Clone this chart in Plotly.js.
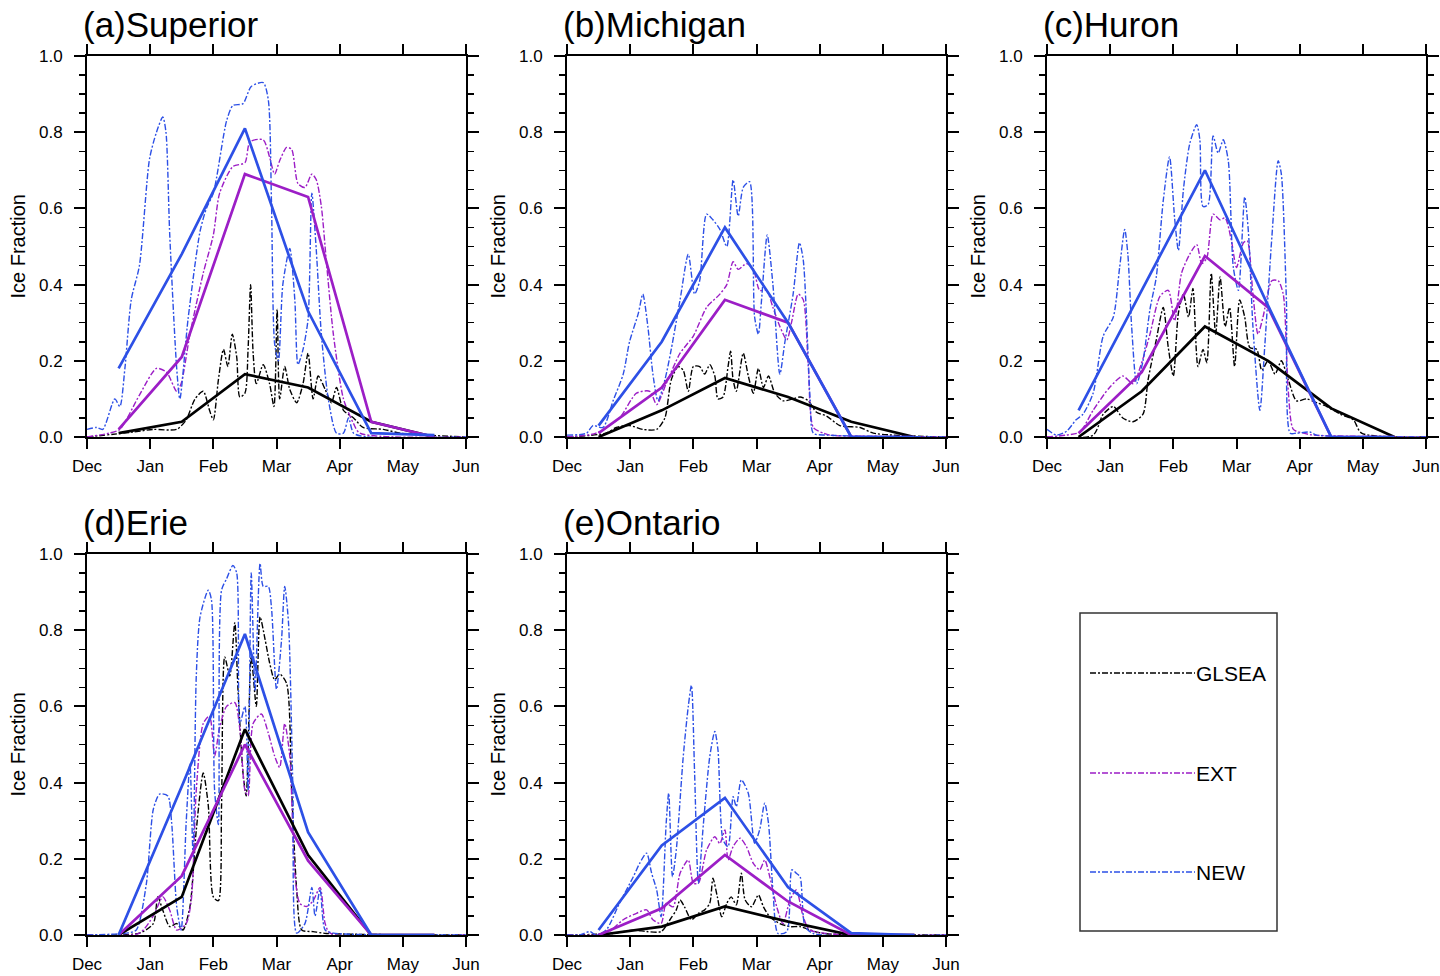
<!DOCTYPE html>
<html>
<head>
<meta charset="utf-8">
<script src="https://cdn.plot.ly/plotly-3.0.1.min.js"></script>
<style>
html,body{margin:0;padding:0;background:#fff;}
#chart{width:1440px;height:976px;}
</style>
</head>
<body>
<div id="chart"></div>
<script>
// ---------- categories / ticks ----------
const monthTickVals = [0, 1, 2, 3, 4, 5, 6];
const monthLabels = ["Dec", "Jan", "Feb", "Mar", "Apr", "May", "Jun"];
const yTickVals = [0, 0.2, 0.4, 0.6, 0.8, 1.0];
const yTickLabels = ["0.0", "0.2", "0.4", "0.6", "0.8", "1.0"];
const seriesNames = ["GLSEA", "EXT", "NEW"];
const panelTitles = ["(a)Superior", "(b)Michigan", "(c)Huron", "(d)Erie", "(e)Ontario"];

// monthly means plotted at mid-month (month index from 1 Dec)
const midMonths = [0.5, 1.5, 2.5, 3.5, 4.5, 5.5];

// ---------- (a) Superior ----------
const supGLSEAmon = [0.01, 0.04, 0.165, 0.13, 0.04, 0.0];
const supEXTmon   = [0.02, 0.21, 0.69, 0.63, 0.04, 0.0];
const supNEWmon   = [0.18, 0.48, 0.81, 0.33, 0.01, 0.005];
const supGLSEAday = [[0,0],[0.73,0.013],[1.05,0.02],[1.42,0.02],[1.57,0.045],[1.71,0.10],[1.84,0.12],[1.94,0.07],[2.0,0.045],[2.08,0.15],[2.16,0.23],[2.23,0.185],[2.30,0.27],[2.37,0.21],[2.42,0.105],[2.50,0.115],[2.55,0.23],[2.59,0.40],[2.63,0.22],[2.68,0.14],[2.79,0.19],[2.89,0.14],[2.96,0.08],[3.01,0.335],[3.05,0.10],[3.13,0.185],[3.21,0.125],[3.32,0.09],[3.42,0.14],[3.50,0.22],[3.58,0.10],[3.66,0.16],[3.77,0.125],[3.87,0.09],[3.95,0.13],[4.06,0.07],[4.22,0.05],[4.37,0.025],[4.69,0.02],[4.96,0.01],[6.0,0]];
const supEXTday = [[0,0],[0.35,0.01],[0.52,0.02],[0.83,0.11],[1.10,0.18],[1.26,0.17],[1.42,0.12],[1.49,0.14],[1.63,0.27],[1.84,0.43],[2.0,0.53],[2.10,0.64],[2.31,0.71],[2.50,0.72],[2.58,0.775],[2.79,0.78],[2.89,0.735],[2.97,0.69],[3.05,0.725],[3.16,0.76],[3.24,0.755],[3.34,0.665],[3.45,0.655],[3.56,0.69],[3.63,0.675],[3.71,0.605],[3.79,0.46],[3.90,0.27],[4.06,0.10],[4.22,0.035],[4.32,0.01],[6.0,0]];
const supNEWday = [[0,0.02],[0.15,0.025],[0.25,0.02],[0.44,0.10],[0.52,0.08],[0.60,0.18],[0.70,0.36],[0.83,0.45],[0.99,0.73],[1.10,0.80],[1.20,0.84],[1.25,0.80],[1.31,0.53],[1.42,0.18],[1.47,0.10],[1.60,0.31],[1.79,0.54],[1.89,0.60],[2.0,0.64],[2.21,0.83],[2.31,0.87],[2.47,0.875],[2.60,0.92],[2.79,0.93],[2.87,0.885],[2.92,0.62],[2.97,0.245],[3.03,0.20],[3.10,0.40],[3.21,0.495],[3.29,0.36],[3.34,0.19],[3.42,0.23],[3.50,0.31],[3.56,0.64],[3.63,0.49],[3.71,0.27],[3.82,0.10],[3.95,0.01],[4.06,0.01],[4.14,0.05],[4.22,0.01],[4.43,0.0],[6.0,0]];

// ---------- (b) Michigan ----------
const micGLSEAmon = [0.0, 0.07, 0.155, 0.105, 0.04, 0.0];
const micEXTmon   = [0.01, 0.13, 0.36, 0.30, 0.0, 0.0];
const micNEWmon   = [0.03, 0.25, 0.55, 0.30, 0.0, 0.0];
const micGLSEAday = [[0,0],[0.62,0.01],[0.78,0.025],[0.99,0.03],[1.20,0.02],[1.42,0.02],[1.55,0.05],[1.65,0.15],[1.76,0.185],[1.84,0.175],[1.92,0.12],[2.0,0.185],[2.10,0.185],[2.18,0.165],[2.26,0.19],[2.34,0.16],[2.39,0.10],[2.47,0.105],[2.55,0.185],[2.59,0.225],[2.63,0.15],[2.68,0.12],[2.79,0.22],[2.87,0.16],[2.95,0.115],[3.03,0.18],[3.11,0.13],[3.19,0.16],[3.29,0.115],[3.42,0.095],[3.58,0.10],[3.69,0.105],[3.82,0.095],[3.95,0.065],[4.11,0.055],[4.32,0.03],[4.64,0.025],[4.85,0.01],[6.0,0]];
const micEXTday = [[0,0],[0.46,0.01],[0.83,0.05],[1.10,0.115],[1.31,0.12],[1.42,0.085],[1.57,0.14],[1.79,0.22],[2.0,0.265],[2.21,0.34],[2.42,0.375],[2.53,0.40],[2.63,0.46],[2.71,0.44],[2.84,0.455],[2.95,0.44],[3.05,0.385],[3.16,0.385],[3.26,0.34],[3.37,0.29],[3.48,0.255],[3.56,0.305],[3.66,0.375],[3.74,0.36],[3.82,0.185],[3.90,0.025],[4.06,0.01],[4.16,0.005],[6.0,0]];
const micNEWday = [[0,0.005],[0.31,0.01],[0.41,0.03],[0.57,0.025],[0.73,0.095],[0.89,0.165],[0.99,0.25],[1.13,0.325],[1.20,0.375],[1.28,0.29],[1.36,0.165],[1.44,0.095],[1.55,0.15],[1.65,0.23],[1.79,0.36],[1.92,0.48],[2.02,0.375],[2.10,0.41],[2.21,0.585],[2.31,0.57],[2.42,0.545],[2.53,0.50],[2.63,0.675],[2.71,0.58],[2.79,0.655],[2.89,0.67],[2.97,0.315],[3.03,0.27],[3.08,0.36],[3.17,0.53],[3.26,0.40],[3.37,0.165],[3.45,0.25],[3.58,0.375],[3.68,0.51],[3.74,0.465],[3.85,0.095],[3.90,0.01],[4.11,0.005],[6.0,0]];

// ---------- (c) Huron ----------
const hurGLSEAmon = [0.0, 0.12, 0.29, 0.20, 0.075, 0.0];
const hurEXTmon   = [0.01, 0.17, 0.475, 0.34, 0.0, 0.0];
const hurNEWmon   = [0.07, 0.385, 0.70, 0.345, 0.0, 0.0];
const hurGLSEAday = [[0,0],[0.73,0.005],[0.89,0.06],[1.05,0.08],[1.20,0.05],[1.36,0.04],[1.52,0.06],[1.60,0.15],[1.73,0.255],[1.84,0.34],[1.92,0.235],[2.0,0.16],[2.08,0.325],[2.16,0.375],[2.24,0.315],[2.31,0.39],[2.39,0.185],[2.47,0.23],[2.53,0.195],[2.60,0.43],[2.67,0.27],[2.74,0.42],[2.82,0.29],[2.89,0.34],[2.97,0.185],[3.05,0.36],[3.13,0.315],[3.21,0.235],[3.32,0.23],[3.40,0.175],[3.50,0.20],[3.61,0.165],[3.71,0.20],[3.82,0.15],[3.95,0.095],[4.11,0.10],[4.27,0.09],[4.43,0.08],[4.64,0.06],[4.85,0.045],[4.98,0.01],[6.0,0]];
const hurEXTday = [[0,0],[0.31,0.005],[0.52,0.013],[0.73,0.07],[0.99,0.13],[1.20,0.16],[1.36,0.14],[1.49,0.19],[1.63,0.27],[1.79,0.37],[1.92,0.385],[2.02,0.305],[2.13,0.43],[2.26,0.48],[2.37,0.505],[2.45,0.455],[2.53,0.47],[2.63,0.585],[2.74,0.57],[2.82,0.575],[2.92,0.515],[3.0,0.445],[3.11,0.51],[3.17,0.515],[3.26,0.375],[3.34,0.27],[3.42,0.315],[3.56,0.41],[3.66,0.41],[3.74,0.375],[3.82,0.12],[3.90,0.02],[4.06,0.01],[4.22,0.005],[6.0,0]];
const hurNEWday = [[0,0.02],[0.15,0.005],[0.31,0.015],[0.46,0.045],[0.57,0.06],[0.73,0.115],[0.89,0.265],[1.05,0.315],[1.15,0.445],[1.23,0.545],[1.28,0.48],[1.34,0.29],[1.42,0.14],[1.52,0.20],[1.63,0.335],[1.73,0.42],[1.84,0.62],[1.94,0.735],[2.02,0.575],[2.08,0.49],[2.16,0.65],[2.26,0.77],[2.37,0.82],[2.42,0.78],[2.47,0.605],[2.55,0.61],[2.63,0.79],[2.71,0.745],[2.79,0.78],[2.87,0.725],[2.95,0.445],[3.03,0.385],[3.13,0.63],[3.19,0.535],[3.26,0.29],[3.37,0.07],[3.45,0.245],[3.56,0.525],[3.66,0.725],[3.71,0.69],[3.79,0.36],[3.85,0.01],[3.95,0.01],[4.16,0.013],[4.27,0.005],[6.0,0]];

// ---------- (d) Erie ----------
const eriGLSEAmon = [0.0, 0.10, 0.54, 0.21, 0.0, 0.0];
const eriEXTmon   = [0.0, 0.155, 0.50, 0.195, 0.0, 0.0];
const eriNEWmon   = [0.0, 0.39, 0.79, 0.27, 0.0, 0.0];
const eriGLSEAday = [[0,0],[0.83,0.005],[1.05,0.03],[1.12,0.10],[1.20,0.065],[1.31,0.022],[1.42,0.03],[1.52,0.013],[1.63,0.075],[1.73,0.275],[1.84,0.425],[1.92,0.34],[2.0,0.10],[2.08,0.09],[2.13,0.34],[2.18,0.73],[2.26,0.68],[2.34,0.82],[2.39,0.645],[2.47,0.425],[2.52,0.365],[2.60,0.73],[2.68,0.60],[2.74,0.835],[2.82,0.775],[2.89,0.715],[2.97,0.67],[3.05,0.685],[3.16,0.66],[3.24,0.38],[3.32,0.118],[3.40,0.013],[3.58,0.009],[3.79,0.004],[6.0,0]];
const eriEXTday = [[0,0],[0.83,0.005],[1.05,0.05],[1.20,0.10],[1.31,0.065],[1.42,0.013],[1.57,0.03],[1.65,0.09],[1.73,0.38],[1.84,0.555],[1.94,0.575],[2.02,0.47],[2.10,0.545],[2.21,0.60],[2.34,0.61],[2.42,0.54],[2.50,0.38],[2.55,0.365],[2.63,0.555],[2.76,0.58],[2.87,0.53],[2.97,0.47],[3.05,0.44],[3.13,0.555],[3.21,0.47],[3.29,0.16],[3.37,0.083],[3.48,0.075],[3.58,0.09],[3.69,0.125],[3.77,0.03],[3.85,0.005],[6.0,0]];
const eriNEWday = [[0,0],[0.62,0.005],[0.78,0.013],[0.94,0.135],[1.05,0.33],[1.15,0.37],[1.28,0.365],[1.34,0.295],[1.42,0.075],[1.49,0.013],[1.57,0.295],[1.63,0.45],[1.68,0.205],[1.73,0.68],[1.79,0.835],[1.92,0.905],[1.97,0.88],[2.02,0.38],[2.08,0.29],[2.13,0.905],[2.21,0.935],[2.31,0.97],[2.37,0.95],[2.42,0.555],[2.50,0.60],[2.55,0.38],[2.60,0.95],[2.66,0.64],[2.74,0.975],[2.79,0.915],[2.87,0.915],[2.92,0.86],[3.0,0.645],[3.08,0.775],[3.13,0.915],[3.19,0.82],[3.26,0.38],[3.32,0.005],[3.45,0.03],[3.56,0.125],[3.61,0.05],[3.69,0.12],[3.77,0.013],[3.90,0.005],[6.0,0]];

// ---------- (e) Ontario ----------
const ontGLSEAmon = [0.0, 0.022, 0.075, 0.035, 0.0, 0.0];
const ontEXTmon   = [0.0, 0.07, 0.21, 0.088, 0.0, 0.0];
const ontNEWmon   = [0.013, 0.235, 0.36, 0.125, 0.005, 0.0];
const ontGLSEAday = [[0,0],[0.73,0.004],[1.05,0.013],[1.26,0.009],[1.49,0.009],[1.63,0.04],[1.73,0.066],[1.79,0.092],[1.86,0.074],[1.97,0.04],[2.08,0.057],[2.18,0.066],[2.26,0.083],[2.31,0.149],[2.38,0.10],[2.45,0.048],[2.53,0.083],[2.60,0.10],[2.68,0.079],[2.76,0.162],[2.82,0.092],[2.92,0.074],[3.03,0.105],[3.11,0.074],[3.21,0.048],[3.37,0.03],[3.53,0.022],[3.69,0.022],[3.85,0.013],[4.06,0.004],[6.0,0]];
const ontEXTday = [[0,0],[0.62,0.004],[0.89,0.04],[1.10,0.057],[1.26,0.066],[1.36,0.04],[1.49,0.03],[1.57,0.083],[1.68,0.074],[1.79,0.162],[1.92,0.197],[2.0,0.136],[2.08,0.136],[2.21,0.223],[2.34,0.258],[2.42,0.24],[2.50,0.276],[2.55,0.197],[2.63,0.232],[2.74,0.254],[2.84,0.232],[2.95,0.188],[3.05,0.171],[3.13,0.197],[3.21,0.153],[3.32,0.074],[3.42,0.03],[3.53,0.092],[3.63,0.118],[3.74,0.048],[3.85,0.013],[6.0,0]];
const ontNEWday = [[0,0],[0.20,0],[0.36,0.009],[0.46,0],[0.62,0.013],[0.83,0.083],[1.05,0.153],[1.15,0.188],[1.26,0.215],[1.34,0.162],[1.42,0.118],[1.49,0.048],[1.57,0.293],[1.61,0.372],[1.67,0.153],[1.73,0.223],[1.84,0.468],[1.92,0.60],[1.97,0.655],[2.02,0.425],[2.08,0.136],[2.16,0.293],[2.26,0.468],[2.34,0.534],[2.39,0.486],[2.47,0.25],[2.55,0.232],[2.63,0.363],[2.68,0.337],[2.76,0.407],[2.87,0.372],[2.97,0.241],[3.05,0.276],[3.13,0.346],[3.19,0.293],[3.26,0.118],[3.34,0.004],[3.48,0.009],[3.56,0.171],[3.63,0.162],[3.69,0.153],[3.77,0.022],[3.90,0.004],[6.0,0]];

// ---------- assemble ----------
const lakes = [
  {daily:[supGLSEAday, supEXTday, supNEWday], monthly:[supGLSEAmon, supEXTmon, supNEWmon]},
  {daily:[micGLSEAday, micEXTday, micNEWday], monthly:[micGLSEAmon, micEXTmon, micNEWmon]},
  {daily:[hurGLSEAday, hurEXTday, hurNEWday], monthly:[hurGLSEAmon, hurEXTmon, hurNEWmon]},
  {daily:[eriGLSEAday, eriEXTday, eriNEWday], monthly:[eriGLSEAmon, eriEXTmon, eriNEWmon]},
  {daily:[ontGLSEAday, ontEXTday, ontNEWday], monthly:[ontGLSEAmon, ontEXTmon, ontNEWmon]}
];
const colors = ["#000000", "#9c1ec6", "#2d50e6"];
const dailyDash = "6px,2px,2px,2px";
const FONT = "Liberation Sans, Arial, Helvetica, sans-serif";

const W = 1440, H = 976;
const colX = [[87, 466], [567, 946], [1047, 1426]];
const rowY = [[56, 437], [554, 935]];
const panelPos = [[0,0],[1,0],[2,0],[0,1],[1,1]];

const traces = [];
const layout = {
  width: W, height: H,
  margin: {l:0, r:0, t:0, b:0},
  paper_bgcolor: "#ffffff", plot_bgcolor: "#ffffff",
  showlegend: false,
  font: {family: FONT, color: "#000"},
  annotations: [], shapes: []
};

lakes.forEach((lake, i) => {
  const n = i + 1;
  const xa = "x" + (n === 1 ? "" : n), ya = "y" + (n === 1 ? "" : n);
  lake.daily.forEach((pairs, s) => {
    traces.push({
      type: "scatter", mode: "lines", xaxis: xa, yaxis: ya, name: seriesNames[s] + " daily",
      x: pairs.map(p => p[0]), y: pairs.map(p => p[1]),
      line: {color: colors[s], width: 1.4, dash: dailyDash, shape: "spline", smoothing: 0.7},
      hoverinfo: "skip"
    });
  });
  lake.monthly.forEach((vals, s) => {
    traces.push({
      type: "scatter", mode: "lines", xaxis: xa, yaxis: ya, name: seriesNames[s] + " monthly",
      x: midMonths, y: vals,
      line: {color: colors[s], width: 2.7},
      hoverinfo: "skip"
    });
  });

  const [c, r] = panelPos[i];
  const xd = [colX[c][0] / W, colX[c][1] / W];
  const yd = [1 - rowY[r][1] / H, 1 - rowY[r][0] / H];
  const axBase = {
    showline: true, linecolor: "#000", linewidth: 2, mirror: "ticks",
    ticks: "outside", tickcolor: "#000", tickwidth: 2,
    showgrid: false, zeroline: false, fixedrange: true
  };
  layout["xaxis" + (n === 1 ? "" : n)] = Object.assign({}, axBase, {
    domain: xd, anchor: ya, range: [0, 6],
    tickmode: "array", tickvals: monthTickVals, ticktext: monthLabels,
    ticklen: 10, ticklabelstandoff: 3,
    tickfont: {family: FONT, size: 17, color: "#000"}
  });
  layout["yaxis" + (n === 1 ? "" : n)] = Object.assign({}, axBase, {
    domain: yd, anchor: xa, range: [0, 1],
    tickmode: "array", tickvals: yTickVals, ticktext: yTickLabels,
    ticklen: 11, ticklabelstandoff: 8,
    tickfont: {family: FONT, size: 17, color: "#000"},
    minor: {dtick: 0.05, ticks: "outside", ticklen: 6, tickwidth: 1.5, tickcolor: "#000", showgrid: false}
  });

  // panel title
  layout.annotations.push({
    xref: "paper", yref: "paper", x: (colX[c][0] - 6) / W, y: 1 - (rowY[r][0] - 32) / H,
    xanchor: "left", yanchor: "middle", showarrow: false,
    text: panelTitles[i], font: {family: FONT, size: 35, color: "#000"}
  });
  // y axis title
  layout.annotations.push({
    xref: "paper", yref: "paper", x: (colX[c][0] - 70) / W, y: 1 - ((rowY[r][0] + rowY[r][1]) / 2) / H,
    xanchor: "center", yanchor: "middle", showarrow: false, textangle: -90,
    text: "Ice Fraction", font: {family: FONT, size: 20, color: "#000"}
  });
});

// legend box (drawn in paper space)
const legBox = {x0: 1080, x1: 1277, y0: 613, y1: 931};
layout.shapes.push({
  type: "rect", xref: "paper", yref: "paper",
  x0: legBox.x0 / W, x1: legBox.x1 / W, y0: 1 - legBox.y1 / H, y1: 1 - legBox.y0 / H,
  line: {color: "#333", width: 1.5}, fillcolor: "rgba(0,0,0,0)"
});
const legRows = [673, 773, 872];
seriesNames.forEach((nm, s) => {
  layout.shapes.push({
    type: "line", xref: "paper", yref: "paper",
    x0: 1090 / W, x1: 1195 / W, y0: 1 - legRows[s] / H, y1: 1 - legRows[s] / H,
    line: {color: colors[s], width: 1.4, dash: dailyDash}
  });
  layout.annotations.push({
    xref: "paper", yref: "paper", x: 1194 / W, y: 1 - legRows[s] / H,
    xanchor: "left", yanchor: "middle", showarrow: false,
    text: nm, font: {family: FONT, size: 21, color: "#000"}
  });
});

Plotly.newPlot("chart", traces, layout, {staticPlot: true, displayModeBar: false});
</script>
</body>
</html>
